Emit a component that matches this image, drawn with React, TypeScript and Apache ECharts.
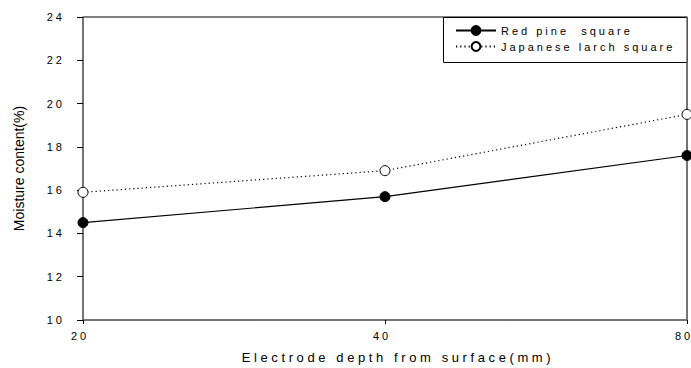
import React, { useEffect, useRef } from "react";
import * as echarts from "echarts";

const depths = ["20", "40", "80"];
const redPine = [14.5, 15.7, 17.6];
const larch = [15.9, 16.9, 19.5];
const seriesNames = ["Red pine  square", "Japanese larch square"];
const yTicks = { min: 10, max: 24, interval: 2 };
const xTitle = "Electrode depth from surface(mm)";
const yTitle = "Moisture content(%)";

const FONT = "'Liberation Sans', Arial, sans-serif";

export default function App() {
  const ref = useRef<HTMLDivElement>(null);
  useEffect(() => {
    if (!ref.current) return;
    const chart = echarts.init(ref.current, undefined, { renderer: "svg" });
    const gray = "#707070";
    chart.setOption({
      animation: false,
      backgroundColor: "#fff",
      textStyle: { fontFamily: FONT, color: "#000" },
      grid: {
        left: 83,
        right: 4,
        top: 17,
        bottom: 48,
        show: true,
        borderColor: "#000",
        borderWidth: 1,
        backgroundColor: "transparent",
        containLabel: false,
        outerBoundsMode: "none",
      },
      legend: {
        orient: "vertical",
        left: 450,
        top: 20,
        itemWidth: 40,
        itemHeight: 11,
        itemGap: 5,
        textStyle: { fontSize: 11, color: "#000", fontFamily: FONT },
        data: seriesNames,
      },
      graphic: [
        {
          type: "rect",
          left: 443,
          top: 17,
          shape: { width: 244, height: 45 },
          style: { fill: "#fff", stroke: "#000", lineWidth: 1 },
          z: 0,
          zlevel: 0,
        },
      ],
      xAxis: {
        type: "category",
        data: depths,
        boundaryGap: false,
        name: xTitle,
        nameLocation: "middle",
        nameGap: 31,
        nameTextStyle: { fontSize: 13, color: "#000", padding: [0, 0, 0, 26] },
        axisLine: { lineStyle: { color: gray, width: 1.5 } },
        axisTick: { show: true, length: 4, lineStyle: { color: "#000" } },
        axisLabel: { fontSize: 11, color: "#000", margin: 10, padding: [0, 6, 0, 0] },
        splitLine: { show: false },
      },
      yAxis: [
        {
          type: "value",
          min: yTicks.min,
          max: yTicks.max,
          interval: yTicks.interval,
          name: yTitle,
          nameLocation: "middle",
          nameGap: 57,
          nameTextStyle: { fontSize: 14, color: "#000" },
          axisLine: { show: true, lineStyle: { color: gray, width: 1.5 } },
          axisTick: { show: true, length: 6, lineStyle: { color: "#000" } },
          axisLabel: { fontSize: 11, color: "#000", margin: 18 },
          splitLine: { show: false },
        },
        {
          type: "value",
          position: "right",
          min: yTicks.min,
          max: yTicks.max,
          interval: yTicks.interval,
          axisLine: { show: true, lineStyle: { color: gray, width: 1.5 } },
          axisTick: { show: false },
          axisLabel: { show: false },
          splitLine: { show: false },
        },
      ],
      series: [
        {
          name: seriesNames[0],
          type: "line",
          data: redPine,
          symbol: "circle",
          symbolSize: 10,
          itemStyle: { color: "#000", borderColor: "#000", borderWidth: 1 },
          lineStyle: { color: "#000", width: 1.2, type: "solid" },
          z: 5,
        },
        {
          name: seriesNames[1],
          type: "line",
          data: larch,
          symbol: "circle",
          symbolSize: 10,
          itemStyle: { color: "#fff", borderColor: "#000", borderWidth: 1 },
          lineStyle: { color: "#000", width: 1.2, type: [1.2, 3] },
          z: 5,
        },
      ],
    });

    const spacing: Record<string, string> = {};
    spacing[yTitle] = "0px";
    spacing[xTitle] = "3.6px";
    const applySpacing = () => {
      const texts = ref.current?.querySelectorAll("text") || [];
      texts.forEach((t: any) => {
        const c = t.textContent || "";
        const s = spacing[c] !== undefined ? spacing[c] : "3px";
        t.style.letterSpacing = s;
        t.setAttribute("xml:space", "preserve");
        t.style.whiteSpace = "pre";
      });
    };
    applySpacing();
    chart.on("finished", applySpacing);
    return () => {
      chart.dispose();
    };
  }, []);
  return (
    <div
      ref={ref}
      style={{ width: 691, height: 368, position: "absolute", left: 0, top: 0 }}
    />
  );
}
